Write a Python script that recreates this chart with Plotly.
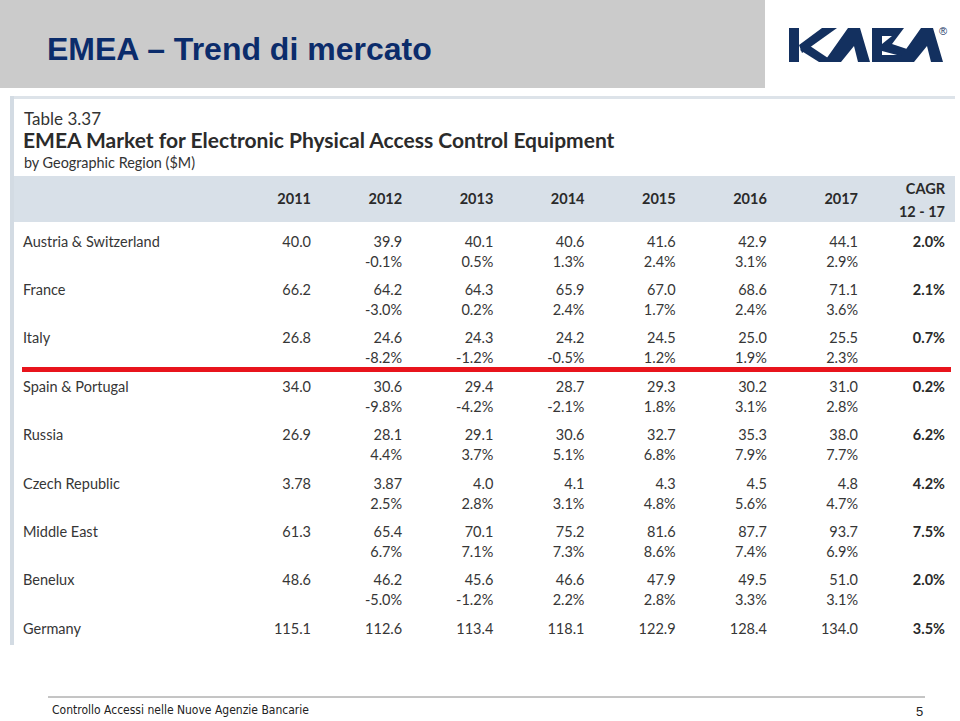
import plotly.graph_objects as go

# ---- data ----
years = ["2011", "2012", "2013", "2014", "2015", "2016", "2017"]
regions = [
    "Austria & Switzerland",
    "France",
    "Italy",
    "Spain & Portugal",
    "Russia",
    "Czech Republic",
    "Middle East",
    "Benelux",
    "Germany",
]

austria = [40.0, 39.9, 40.1, 40.6, 41.6, 42.9, 44.1]
france = [66.2, 64.2, 64.3, 65.9, 67.0, 68.6, 71.1]
italy = [26.8, 24.6, 24.3, 24.2, 24.5, 25.0, 25.5]
spain = [34.0, 30.6, 29.4, 28.7, 29.3, 30.2, 31.0]
russia = [26.9, 28.1, 29.1, 30.6, 32.7, 35.3, 38.0]
czech = [3.78, 3.87, 4.0, 4.1, 4.3, 4.5, 4.8]
middle_east = [61.3, 65.4, 70.1, 75.2, 81.6, 87.7, 93.7]
benelux = [48.6, 46.2, 45.6, 46.6, 47.9, 49.5, 51.0]
germany = [115.1, 112.6, 113.4, 118.1, 122.9, 128.4, 134.0]

# year-on-year growth 2012..2017 (%), Germany's row is cut off in the slide
growth_austria = [-0.1, 0.5, 1.3, 2.4, 3.1, 2.9]
growth_france = [-3.0, 0.2, 2.4, 1.7, 2.4, 3.6]
growth_italy = [-8.2, -1.2, -0.5, 1.2, 1.9, 2.3]
growth_spain = [-9.8, -4.2, -2.1, 1.8, 3.1, 2.8]
growth_russia = [4.4, 3.7, 5.1, 6.8, 7.9, 7.7]
growth_czech = [2.5, 2.8, 3.1, 4.8, 5.6, 4.7]
growth_middle_east = [6.7, 7.1, 7.3, 8.6, 7.4, 6.9]
growth_benelux = [-5.0, -1.2, 2.2, 2.8, 3.3, 3.1]
growth_germany = []

cagr = [2.0, 2.1, 0.7, 0.2, 6.2, 4.2, 7.5, 2.0, 3.5]

values = [austria, france, italy, spain, russia, czech, middle_east, benelux, germany]
growths = [
    growth_austria, growth_france, growth_italy, growth_spain, growth_russia,
    growth_czech, growth_middle_east, growth_benelux, growth_germany,
]

# ---- layout constants ----
W, H = 960, 721
COL0_PX, COL_STEP = 311, 91.17      # right edge of the 2011 column, column pitch
ROW0_PX, ROW_STEP = 243, 48.375     # centre of first row, row pitch
CAGR_X = (945 - COL0_PX) / COL_STEP
LABEL_X = (23 - COL0_PX) / COL_STEP
GROWTH_DY = 20 / ROW_STEP
HEADER_Y = (200 - ROW0_PX) / ROW_STEP

NAVY = "#0b2c6b"
LOGO = "#13305f"
TXT = "#363636"
FONT = "Lato"

fig = go.Figure()

# value cells
vx, vy, vt = [], [], []
gx, gy, gt = [], [], []
for i, row in enumerate(values):
    for j, v in enumerate(row):
        vx.append(j)
        vy.append(i)
        vt.append(str(v))
    for j, g in enumerate(growths[i]):
        gx.append(j + 1)
        gy.append(i + GROWTH_DY)
        gt.append(f"{g}%")

cell_font = dict(family=FONT, size=14.5, color=TXT)
bold_font = dict(family=FONT, size=14.5, color="#2a2a2a", weight="bold")

fig.add_trace(go.Scatter(x=vx, y=vy, text=vt, mode="text", textposition="middle left",
                         textfont=cell_font, xaxis="x2", yaxis="y2", hoverinfo="skip"))
fig.add_trace(go.Scatter(x=gx, y=gy, text=gt, mode="text", textposition="middle left",
                         textfont=cell_font, xaxis="x2", yaxis="y2", hoverinfo="skip"))
fig.add_trace(go.Scatter(x=[LABEL_X] * len(regions), y=list(range(len(regions))), text=regions,
                         mode="text", textposition="middle right", textfont=cell_font,
                         xaxis="x2", yaxis="y2", hoverinfo="skip"))
fig.add_trace(go.Scatter(x=[CAGR_X] * len(cagr), y=list(range(len(cagr))),
                         text=[f"{c}%" for c in cagr], mode="text", textposition="middle left",
                         textfont=bold_font, xaxis="x2", yaxis="y2", hoverinfo="skip"))
# header row
fig.add_trace(go.Scatter(x=list(range(len(years))), y=[HEADER_Y] * len(years), text=years,
                         mode="text", textposition="middle left", textfont=bold_font,
                         xaxis="x2", yaxis="y2", hoverinfo="skip"))
fig.add_trace(go.Scatter(x=[CAGR_X, CAGR_X],
                         y=[(190 - ROW0_PX) / ROW_STEP, (213 - ROW0_PX) / ROW_STEP],
                         text=["CAGR", "12 - 17"], mode="text", textposition="middle left",
                         textfont=bold_font, xaxis="x2", yaxis="y2", hoverinfo="skip"))


def letter_a(x0):
    # KABA style "A": a triangle without crossbar, open at the bottom
    return (f"M{x0},62 L{x0 + 24},28 L{x0 + 36},28 L{x0 + 46},62 L{x0 + 34},62 "
            f"L{x0 + 30},46 L{x0 + 17},62 Z")


# ---- slide decoration, drawn in pixel space ----
shapes = [
    # grey title band
    dict(type="rect", x0=0, x1=765, y0=0, y1=88, fillcolor="#cbcbcb", line_width=0, layer="below"),
    # table frame
    dict(type="rect", x0=10, x1=955, y0=96, y1=99, fillcolor="#dde3e9", line_width=0, layer="below"),
    dict(type="rect", x0=10, x1=14, y0=96, y1=645, fillcolor="#d3dbe3", line_width=0, layer="below"),
    # header band of the table
    dict(type="rect", x0=14, x1=955, y0=176, y1=222, fillcolor="#d8e0e8", line_width=0, layer="below"),
    # red highlight line
    dict(type="line", x0=22, x1=951, y0=369.5, y1=369.5, line=dict(color="#e8141c", width=5)),
    # footer rule
    dict(type="line", x0=48, x1=925, y0=697, y1=697, line=dict(color="#8a8a8a", width=1)),
    # KABA logo
    dict(type="path", path="M789,28 L799,28 L799,62 L789,62 Z", fillcolor=LOGO, line_width=0),
    dict(type="path", path="M799,45 L822,28 L837,28 L802,53 Z", fillcolor=LOGO, line_width=0),
    dict(type="path", path="M807,44 L834,62 L819,62 L800,50 Z", fillcolor=LOGO, line_width=0),
    dict(type="path", path=letter_a(824), fillcolor=LOGO, line_width=0),
    dict(type="path", path="M872,28 L904,28 L892,44 L907,49 L907,62 L872,62 Z "
                           "M882,36 L882,44 L892,36 Z M882,51 L882,55 L897,55 Z",
         fillcolor=LOGO, line_width=0),
    dict(type="path", path=letter_a(897), fillcolor=LOGO, line_width=0),
]

annotations = [
    dict(text="<b>EMEA – Trend di mercato</b>", x=45, y=49, xanchor="left", yanchor="middle",
         font=dict(family="Liberation Sans, Arial", size=32, color=NAVY)),
    dict(text="®", x=943, y=31, xanchor="center", yanchor="middle",
         font=dict(family="Liberation Sans", size=11, color=LOGO)),
    dict(text="Table 3.37", x=22, y=118, xanchor="left", yanchor="middle",
         font=dict(family=FONT, size=17, color="#333333")),
    dict(text="<b>EMEA Market for Electronic Physical Access Control Equipment</b>", x=21, y=139,
         xanchor="left", yanchor="middle", font=dict(family=FONT, size=21, color="#2b2b2b")),
    dict(text="by Geographic Region ($M)", x=22, y=162, xanchor="left", yanchor="middle",
         font=dict(family=FONT, size=14.4, color="#333333")),
    dict(text="Controllo Accessi nelle Nuove Agenzie Bancarie", x=50, y=710, xanchor="left",
         yanchor="middle",
         font=dict(family="Liberation Sans Narrow, DejaVu Sans Condensed, Liberation Sans",
                   size=12, color="#222222")),
    dict(text="5", x=925, y=711, xanchor="right", yanchor="middle",
         font=dict(family="Liberation Sans Narrow, Liberation Sans", size=13, color="#222222")),
]
for a in annotations:
    a.update(xref="x", yref="y", showarrow=False)
for s in shapes:
    s.update(xref="x", yref="y")

fig.update_layout(
    width=W,
    height=H,
    margin=dict(l=0, r=0, t=0, b=0),
    paper_bgcolor="white",
    plot_bgcolor="white",
    showlegend=False,
    shapes=shapes,
    annotations=annotations,
    xaxis=dict(range=[0, W], visible=False, domain=[0, 1], fixedrange=True),
    yaxis=dict(range=[H, 0], visible=False, domain=[0, 1], fixedrange=True),
    xaxis2=dict(range=[-COL0_PX / COL_STEP, (W - COL0_PX) / COL_STEP], visible=False,
                domain=[0, 1], anchor="y2", overlaying="x", fixedrange=True),
    yaxis2=dict(range=[(H - ROW0_PX) / ROW_STEP, -ROW0_PX / ROW_STEP], visible=False,
                domain=[0, 1], anchor="x2", overlaying="y", fixedrange=True),
)

fig.write_html(
    "out.html",
    config={"displayModeBar": False},
    post_script="document.body.style.margin='0';document.body.style.overflow='hidden';",
)
